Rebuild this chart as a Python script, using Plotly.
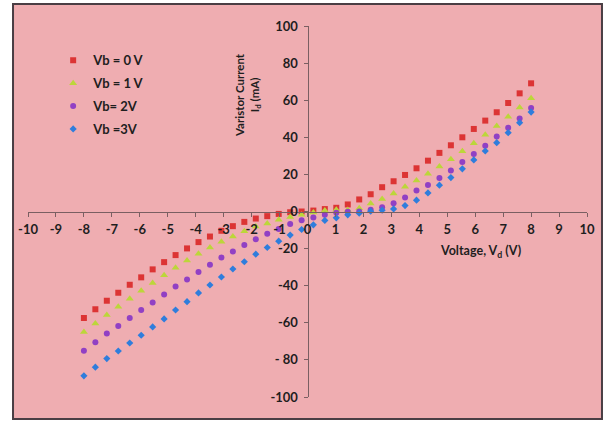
import plotly.graph_objects as go

voltage = [-8.00, -7.59, -7.18, -6.77, -6.36, -5.95, -5.54, -5.13, -4.72, -4.31,
           -3.90, -3.49, -3.08, -2.67, -2.26, -1.85, -1.44, -1.03, -0.62, -0.21,
           0.21, 0.62, 1.03, 1.44, 1.85, 2.26, 2.67, 3.08, 3.49, 3.90,
           4.31, 4.72, 5.13, 5.54, 5.95, 6.36, 6.77, 7.18, 7.59, 8.00]

current_vb0 = [-57.4, -52.7, -48.1, -43.8, -39.5, -35.5, -31.2, -27.3, -23.5, -19.9,
               -16.5, -13.5, -10.4, -7.9, -5.6, -3.8, -2.5, -1.3, -0.4, 0.0,
               0.5, 1.3, 2.0, 3.8, 6.5, 9.3, 13.1, 16.3, 19.7, 23.3,
               27.4, 31.6, 35.7, 40.0, 44.5, 49.0, 53.5, 58.5, 63.7, 69.1]

current_vb1 = [-64.9, -60.4, -55.8, -51.3, -47.0, -42.7, -38.6, -34.4, -30.3, -26.4,
               -22.8, -19.4, -16.3, -13.5, -10.6, -8.1, -6.5, -4.5, -3.0, -1.8,
               -0.5, 0.5, 0.9, 0.8, 1.8, 4.3, 6.8, 9.7, 13.3, 16.7,
               20.4, 24.2, 28.2, 32.5, 36.8, 41.4, 46.1, 51.1, 56.0, 61.0]

current_vb2 = [-75.0, -70.5, -65.8, -61.7, -57.4, -53.1, -49.0, -44.8, -40.4, -36.6,
               -32.6, -28.7, -24.8, -21.5, -18.1, -14.9, -12.0, -9.5, -6.8, -4.7,
               -3.2, -1.8, -0.7, -0.2, 0.0, 0.9, 2.3, 4.5, 7.5, 11.3,
               14.3, 18.1, 22.1, 26.7, 31.0, 35.5, 40.4, 45.2, 50.2, 55.8]

current_vb3 = [-88.6, -83.9, -79.3, -75.2, -70.9, -66.7, -62.2, -57.9, -53.1, -48.6,
               -43.9, -39.6, -35.3, -31.0, -27.1, -23.0, -19.4, -16.0, -12.7, -9.7,
               -7.2, -4.8, -3.4, -1.8, -0.9, 0.2, 0.7, 1.4, 3.2, 6.1,
               10.0, 14.2, 18.3, 23.0, 27.8, 32.6, 37.1, 42.5, 47.9, 53.6]

series_names = ["Vb = 0 V", "Vb = 1 V", "Vb= 2V", "Vb =3V"]

x_tick_vals = list(range(-10, 11))
x_tick_text = [str(v) for v in x_tick_vals]
y_tick_vals = [-100, -80, -60, -40, -20, 0, 20, 40, 60, 80, 100]
y_tick_text = ["-100", "- 80", "-60", "-40", "-20", "0", "20", "40", "60", "80", "100"]

FONT = "Lato, Carlito, Calibri, 'Open Sans', sans-serif"
PINK = "#EFADB1"
AXIS = "#7A5F62"
TXT = "#1E1E1E"

styles = [
    dict(symbol="square", size=6, color="#DC3434"),
    dict(symbol="triangle-up", size=7, color="#BCD63A"),
    dict(symbol="circle", size=6, color="#9140C4"),
    dict(symbol="diamond", size=5.5, color="#2F7DDC"),
]

fig = go.Figure()
for name, ys, st, grp in zip(series_names,
                             [current_vb0, current_vb1, current_vb2, current_vb3],
                             styles, ["a", "b", "c", "d"]):
    fig.add_trace(go.Scatter(
        x=voltage, y=ys, mode="markers", name=name, legendgroup=grp,
        marker=dict(symbol=st["symbol"], size=st["size"], color=st["color"],
                    line=dict(width=0)),
    ))

fig.update_layout(
    width=606, height=423,
    margin=dict(l=28, r=19, t=26, b=26),
    paper_bgcolor="white",
    plot_bgcolor="rgba(0,0,0,0)",
    font=dict(family=FONT, size=13, color=TXT, weight="bold"),
    showlegend=True,
    legend=dict(
        x=0.045, y=0.948, xanchor="left", yanchor="top",
        bgcolor="rgba(0,0,0,0)", borderwidth=0,
        font=dict(family=FONT, size=13, color=TXT, weight="bold"),
        tracegroupgap=3, traceorder="grouped",
        itemwidth=30,
    ),
    xaxis=dict(
        range=[-10, 10], anchor="free", position=0.5,
        showgrid=False, zeroline=False,
        showline=True, linecolor=AXIS, linewidth=1,
        ticks="outside", ticklen=4, tickcolor=AXIS, tickwidth=1,
        tickvals=x_tick_vals, ticktext=x_tick_text,
        tickfont=dict(family=FONT, size=13, color=TXT, weight="bold"),
        ticklabelstandoff=2,
        fixedrange=True,
    ),
    yaxis=dict(
        range=[-100, 100], anchor="free", position=0.5,
        showgrid=False, zeroline=False,
        showline=True, linecolor=AXIS, linewidth=1,
        ticks="outside", ticklen=4, tickcolor=AXIS, tickwidth=1,
        tickvals=y_tick_vals, ticktext=y_tick_text,
        tickfont=dict(family=FONT, size=13, color=TXT, weight="bold"),
        ticklabelstandoff=3,
        fixedrange=True,
    ),
    shapes=[dict(
        type="rect", xref="paper", yref="paper",
        x0=-0.0268, x1=1.0268, y0=-0.0593, y1=1.0593,
        fillcolor=PINK, line=dict(color="#4A3E44", width=2), layer="below",
    )],
    annotations=[
        dict(text="Varistor Current<br>I<sub>d</sub> (mA)", textangle=-90,
             xref="paper", yref="paper", x=(248 - 28) / 559, y=(397 - 95) / 371,
             xanchor="center", yanchor="middle", showarrow=False,
             font=dict(family=FONT, size=11.5, color=TXT, weight="bold")),
        dict(text="Voltage, V<sub>d</sub> (V)",
             xref="paper", yref="paper", x=(480 - 28) / 559, y=(397 - 252) / 371,
             xanchor="center", yanchor="middle", showarrow=False,
             font=dict(family=FONT, size=12.5, color=TXT, weight="bold")),
    ],
)

fig.write_html("out.html", config={"displayModeBar": False},
               post_script="document.body.style.margin='0px';")
